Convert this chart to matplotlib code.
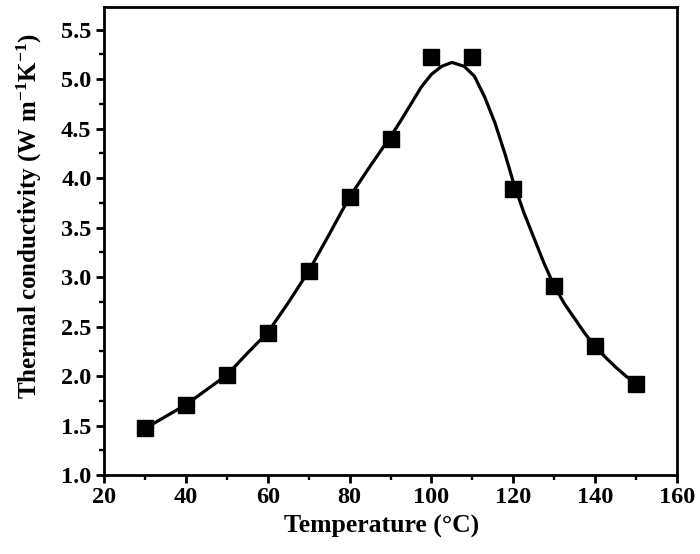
import matplotlib
matplotlib.use("Agg")
import matplotlib.pyplot as plt
from matplotlib.ticker import MultipleLocator, FormatStrFormatter

# measured points
temp = [30, 40, 50, 60, 70, 80, 90, 100, 110, 120, 130, 140, 150]
kappa = [1.47, 1.71, 2.01, 2.44, 3.06, 3.81, 4.40, 5.22, 5.22, 3.89, 2.91, 2.30, 1.92]

# fitted curve
fit_t = [30, 35, 40, 45, 50, 55, 60, 65, 70, 75, 80, 85, 90, 92.5, 95, 97.5,
         100, 102.5, 105, 108, 110.5, 113, 115.5, 118, 120, 122.5, 125, 127.5,
         130, 132.5, 135, 137.5, 140, 142.5, 145, 147.5, 150]
fit_k = [1.47, 1.59, 1.71, 1.86, 2.01, 2.23, 2.44, 2.74, 3.06, 3.43, 3.81,
         4.12, 4.42, 4.58, 4.75, 4.92, 5.05, 5.13, 5.17, 5.13, 5.03, 4.82,
         4.56, 4.24, 3.96, 3.66, 3.40, 3.14, 2.91, 2.73, 2.58, 2.43, 2.30,
         2.19, 2.09, 2.00, 1.92]

plt.rcParams["font.family"] = "Liberation Serif"
plt.rcParams["font.weight"] = "bold"
plt.rcParams["mathtext.fontset"] = "custom"
plt.rcParams["mathtext.rm"] = "Liberation Serif:bold"
plt.rcParams["mathtext.bf"] = "Liberation Serif:bold"
plt.rcParams["mathtext.it"] = "Liberation Serif:bold"

fig = plt.figure(figsize=(7.0, 5.54), dpi=100)
ax = fig.add_axes([0.1486, 0.1426, 0.8186, 0.8448])

ax.plot(fit_t, fit_k, color="black", lw=2.3, solid_joinstyle="round",
        solid_capstyle="round", zorder=2)
ax.plot(temp, kappa, "s", color="black", markersize=11, zorder=3)

ax.set_xlim(20, 160)
ax.set_ylim(1.0, 5.73)
ax.xaxis.set_major_locator(MultipleLocator(20))
ax.xaxis.set_minor_locator(MultipleLocator(10))
ax.yaxis.set_major_locator(MultipleLocator(0.5))
ax.yaxis.set_minor_locator(MultipleLocator(0.25))
ax.yaxis.set_major_formatter(FormatStrFormatter("%.1f"))

for s in ax.spines.values():
    s.set_linewidth(2.0)
ax.tick_params(which="major", direction="out", length=6, width=2.0, labelsize=17.5, pad=3)
ax.tick_params(which="minor", direction="out", length=3.5, width=1.7)
ax.tick_params(top=False, right=False, which="both")

ax.set_xlabel("Temperature (°C)", fontsize=18.5, fontweight="bold", labelpad=4)
ax.xaxis.set_label_coords(0.485, -0.085)
ax.set_ylabel(r"Thermal conductivity (W m$^{-1}$K$^{-1}$)", fontsize=18,
              fontweight="bold")
ax.yaxis.set_label_coords(-0.105, 0.553)

fig.savefig("out.png", dpi=100)
